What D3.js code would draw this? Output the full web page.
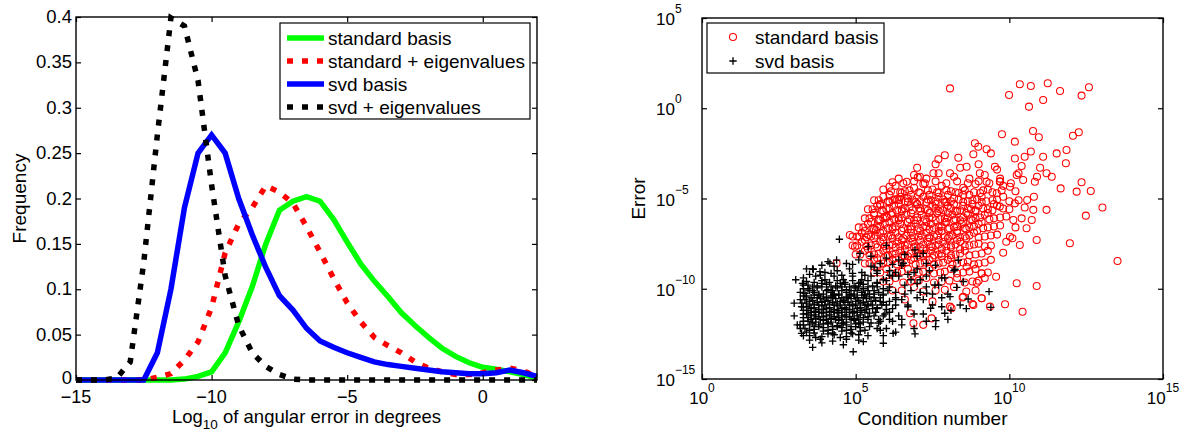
<!DOCTYPE html>
<html><head><meta charset="utf-8">
<script src="https://cdn.jsdelivr.net/npm/d3@7"></script>
<style>
body{margin:0;background:#fff}
svg{display:block}
text{font-family:"Liberation Sans",Arial,Helvetica,sans-serif;fill:#000}
</style>
</head><body>
<svg id="c" width="1184" height="432"></svg>
<script>
// ---------- Left panel data (histogram of log10 angular error) ----------
const binCenters = [-15,-14.5,-14,-13.5,-13,-12.5,-12,-11.5,-11,-10.5,-10,-9.5,-9,-8.5,-8,-7.5,-7,-6.5,-6,-5.5,-5,-4.5,-4,-3.5,-3,-2.5,-2,-1.5,-1,-0.5,0,0.5,1,1.5,2];
const freqStandard    = [0,0,0,0,0,0,0,0,0.001,0.004,0.009,0.03,0.064,0.103,0.15,0.187,0.197,0.202,0.197,0.177,0.152,0.128,0.109,0.092,0.074,0.06,0.047,0.035,0.026,0.019,0.014,0.012,0.009,0.006,0.002];
const freqStandardEig = [0,0,0,0,0,0,0.003,0.007,0.022,0.042,0.08,0.14,0.172,0.19,0.214,0.207,0.195,0.169,0.141,0.112,0.085,0.064,0.047,0.038,0.03,0.02,0.013,0.009,0.006,0.006,0.008,0.011,0.013,0.01,0.004];
const freqSvd         = [0,0,0,0,0,0,0.03,0.10,0.19,0.25,0.27,0.25,0.20,0.16,0.124,0.093,0.077,0.057,0.043,0.036,0.03,0.025,0.02,0.017,0.015,0.013,0.011,0.009,0.008,0.007,0.007,0.008,0.011,0.008,0.004];
const freqSvdEig      = [0,0,0,0.002,0.02,0.13,0.27,0.399,0.39,0.33,0.215,0.115,0.06,0.03,0.015,0.006,0.001,0,0,0,0,0,0,0,0,0,0,0,0,0,0,0,0,0,0];
const seriesNames = ["standard basis","standard + eigenvalues","svd basis","svd + eigenvalues"];
const xTicksLeft = [-15,-10,-5,0];
const xTickLabelsLeft = ["\u221215","\u221210","\u22125","0"];
const yTicksLeft = [0,0.05,0.1,0.15,0.2,0.25,0.3,0.35,0.4];
const yTickLabelsLeft = ["0","0.05","0.1","0.15","0.2","0.25","0.3","0.35","0.4"];

// ---------- Right panel data: [log10 condition number, log10 error] ----------
const redPoints = [
[8.07,1.1],[9.99,0.73],[10.34,1.33],[10.7,1.23],[11.25,1.38],[11.65,0.96],[12.35,0.7],[12.59,1.16],[11.1,0.46],[10.64,0.09],
[9.76,-1.44],[10.77,-1.26],[10.96,-1.61],[12.07,-1.52],[12.26,-1.33],[10.18,-1.85],[8.88,-1.94],[11.86,-2.31],
[13.03,-5.5],[12.49,-5.95],[11.97,-7.48],[13.52,-8.46],[12.65,-4.58],[12.35,-4.1],[11.67,-4.44],[12.19,-4.62],
[10.89,-9.85],[10.24,-9.7],[9.86,-10.86],[10.43,-11.27],[9.37,-10.99],[9.1,-10.53],[8.8,-10.84],[8.48,-10.48],
[7.69,-2.83],[8.34,-2.74],[8.83,-2.55],[8.99,-2.13],[9.26,-2.27],[9.53,-3.24],[9.69,-4.07],[10.18,-2.78],[10.5,-2.69],[11.1,-2.69],[11.54,-2.5],[11.84,-3.05],[11.38,-3.79],[10.83,-4.07],[11.21,-3.6],[10.45,-3.98],
[10.58,-5.08],[10.18,-5.27],[10.78,-5.63],[11.21,-5.63],[10.73,-6.19],[10.56,-6.65],[10.89,-7.3],[10.34,-7.58],[10.02,-7.12],[10.13,-6.19],[9.69,-5.45],[9.59,-4.71],[10.02,-4.35],[10.24,-3.7],[9.26,-4.07],[9.04,-3.6],[8.61,-3.24],[8.07,-3.6],[7.53,-3.6],[7.09,-3.79],[6.66,-4.07],
[9.57,-9.33],[9.1,-9.14],[8.94,-9.67],[8.61,-8.78],[8.07,-10.99],[7.2,-12.0],
[6.1,-4.35],[5.79,-5.36],[5.74,-6.19],[6.28,-5.04],[6.42,-5.08],[7.02,-3.83],[4.81,-7.02],[5.12,-7.12],[5.41,-7.02],[4.98,-7.67],[4.38,-8.59],[5.66,-6.75],[6.01,-6.0],[6.77,-11.36],[6.88,-11.91],
[7.47,-11.64],[8.12,-11.08],[8.5,-10.44],[8.83,-10.9],[9.1,-10.53],
[5.9,-4.5],[6.3,-4.3],[6.6,-4.6],[6.9,-4.4],[7.2,-4.2],[7.5,-4.5],[7.8,-4.3],[8.1,-4.6],[8.5,-4.4],[8.9,-4.2],[9.3,-4.5],[9.8,-4.3],[10.2,-4.6],
[6.4,-3.9],[6.9,-3.7],[7.3,-3.9],[7.7,-3.6],[8.2,-3.8],[8.7,-3.9],[9.2,-3.7],[9.7,-3.9],[10.3,-3.6],[10.9,-3.8],
[7.0,-3.3],[7.6,-3.1],[8.4,-3.3],[9.0,-3.1],[9.6,-3.4],[10.4,-3.2],[11.0,-3.3],
[7.9,-2.6],[9.4,-2.5],[10.7,-2.4],
[5.6,-5.1],[5.9,-4.9],[6.2,-5.1],[6.45,-4.9],[6.7,-5.0],[6.95,-5.2],[7.2,-4.9],[7.45,-5.1],[7.7,-4.9],[7.95,-5.2],[8.2,-5.0],[8.5,-4.8],[8.8,-5.1],[9.1,-4.9],[9.45,-5.1],[9.8,-4.9],[10.3,-5.1],[10.8,-4.9],
[5.4,-5.6],[5.7,-5.4],[6.0,-5.6],[6.25,-5.4],[6.5,-5.6],[6.75,-5.5],[7.0,-5.3],[7.25,-5.6],[7.5,-5.4],[7.75,-5.6],[8.0,-5.4],[8.25,-5.7],[8.5,-5.4],[8.75,-5.6],[9.0,-5.4],[9.3,-5.6],[9.6,-5.4],[10.0,-5.6],[10.5,-5.5],
[5.3,-6.1],[5.6,-5.9],[5.9,-6.1],[6.15,-5.9],[6.4,-6.1],[6.65,-5.9],[6.9,-6.2],[7.15,-5.9],[7.4,-6.1],[7.65,-5.8],[7.9,-6.1],[8.15,-5.9],[8.4,-6.2],[8.65,-5.9],[8.9,-6.1],[9.2,-5.9],[9.5,-6.1],[9.9,-6.0],[10.4,-6.1],
[5.1,-6.6],[5.4,-6.4],[5.7,-6.6],[5.95,-6.4],[6.2,-6.6],[6.45,-6.4],[6.7,-6.7],[6.95,-6.4],[7.2,-6.6],[7.45,-6.4],[7.7,-6.6],[7.95,-6.3],[8.2,-6.6],[8.45,-6.4],[8.7,-6.6],[9.0,-6.4],[9.3,-6.6],[9.7,-6.5],[10.2,-6.6],
[4.9,-7.1],[5.2,-6.9],[5.5,-7.1],[5.8,-6.9],[6.05,-7.1],[6.3,-6.9],[6.55,-7.2],[6.8,-6.9],[7.05,-7.1],[7.3,-6.9],[7.55,-7.1],[7.8,-6.8],[8.05,-7.1],[8.3,-6.9],[8.55,-7.1],[8.85,-6.9],[9.2,-7.1],[9.6,-7.0],[10.1,-7.2],
[4.9,-7.6],[5.2,-7.4],[5.5,-7.6],[5.8,-7.4],[6.1,-7.6],[6.35,-7.4],[6.6,-7.6],[6.85,-7.4],[7.1,-7.7],[7.35,-7.4],[7.6,-7.6],[7.85,-7.4],[8.1,-7.6],[8.4,-7.4],[8.7,-7.6],[9.0,-7.5],[9.4,-7.6],[9.9,-7.4],
[5.0,-8.1],[5.3,-7.9],[5.6,-8.1],[5.9,-7.9],[6.2,-8.1],[6.45,-7.9],[6.7,-8.2],[6.95,-7.9],[7.2,-8.1],[7.45,-7.9],[7.7,-8.1],[7.95,-7.9],[8.25,-8.1],[8.55,-7.9],[8.9,-8.1],[9.3,-7.9],[9.8,-8.0],
[5.3,-8.6],[5.6,-8.4],[5.9,-8.6],[6.2,-8.4],[6.5,-8.6],[6.8,-8.4],[7.1,-8.6],[7.4,-8.4],[7.7,-8.6],[8.0,-8.4],[8.3,-8.6],[8.65,-8.5],[9.0,-8.6],[9.4,-8.4],
[5.6,-9.1],[6.0,-8.9],[6.35,-9.1],[6.7,-8.9],[7.05,-9.1],[7.4,-8.9],[7.75,-9.1],[8.1,-8.9],[8.5,-9.1],[8.9,-8.9],[9.3,-9.1],
[5.9,-9.6],[6.3,-9.4],[6.8,-9.6],[7.3,-9.4],[7.8,-9.6],[8.3,-9.4],[8.8,-9.6],[9.2,-9.4],
[6.2,-10.1],[6.9,-9.9],[7.6,-10.1],[8.2,-9.9],[8.9,-10.1],
[6.6,-10.6],[7.5,-10.7],
[6.1,-4.8],[6.5,-4.7],[6.8,-4.8],[7.1,-4.7],[7.4,-4.8],[7.7,-4.7],[8.0,-4.8],[8.35,-4.7],[8.7,-4.8],[9.05,-4.7],
[5.8,-5.3],[6.1,-5.2],[6.4,-5.3],[6.7,-5.2],[7.0,-5.3],[7.3,-5.2],[7.6,-5.3],[7.9,-5.2],[8.2,-5.3],[8.5,-5.2],[8.8,-5.3],[9.1,-5.2],[9.5,-5.3],
[5.6,-5.8],[5.9,-5.7],[6.2,-5.8],[6.5,-5.7],[6.8,-5.8],[7.1,-5.7],[7.4,-5.8],[7.7,-5.7],[8.0,-5.8],[8.3,-5.7],[8.6,-5.8],[8.9,-5.7],[9.3,-5.8],
[5.5,-6.3],[5.8,-6.2],[6.1,-6.3],[6.4,-6.2],[6.7,-6.3],[7.0,-6.2],[7.3,-6.3],[7.6,-6.2],[7.9,-6.3],[8.2,-6.2],[8.5,-6.3],[8.8,-6.2],[9.1,-6.3],
[5.3,-6.8],[5.6,-6.7],[5.9,-6.8],[6.2,-6.7],[6.5,-6.8],[6.8,-6.7],[7.1,-6.8],[7.4,-6.7],[7.7,-6.8],[8.0,-6.7],[8.3,-6.8],[8.6,-6.7],[8.95,-6.8],
[5.3,-7.3],[5.6,-7.2],[5.9,-7.3],[6.2,-7.2],[6.5,-7.3],[6.8,-7.2],[7.1,-7.3],[7.4,-7.2],[7.7,-7.3],[8.0,-7.2],[8.3,-7.3],[8.6,-7.2],
[5.4,-7.8],[5.7,-7.7],[6.0,-7.8],[6.3,-7.7],[6.6,-7.8],[6.9,-7.7],[7.2,-7.8],[7.5,-7.7],[7.8,-7.8],[8.1,-7.7],[8.4,-7.8],
[5.7,-8.3],[6.0,-8.2],[6.3,-8.3],[6.6,-8.2],[6.9,-8.3],[7.2,-8.2],[7.5,-8.3],[7.8,-8.2],[8.1,-8.3],
[6.2,-4.1],[6.55,-4.15],[6.9,-4.05],[7.25,-4.15],[7.6,-4.05],[7.95,-4.15],[8.3,-4.05],[8.65,-4.15],[9.0,-4.05],[9.35,-4.15],[9.7,-4.05],[10.05,-4.15],
[6.15,-4.6],[6.45,-4.65],[6.75,-4.55],[7.05,-4.65],[7.35,-4.55],[7.65,-4.65],[7.95,-4.55],[8.25,-4.65],[8.55,-4.55],[8.85,-4.65],[9.15,-4.55],[9.45,-4.65],[9.75,-4.55],
[5.75,-5.1],[6.05,-5.15],[6.35,-5.05],[6.6,-5.15],[6.85,-5.05],[7.1,-5.15],[7.35,-5.05],[7.6,-5.15],[7.85,-5.05],[8.1,-5.15],[8.35,-5.05],[8.65,-5.15],[8.95,-5.05],[9.25,-5.15],[9.6,-5.05],[10.0,-5.15],
[5.55,-5.6],[5.85,-5.65],[6.1,-5.55],[6.35,-5.65],[6.6,-5.55],[6.85,-5.65],[7.1,-5.55],[7.35,-5.65],[7.6,-5.55],[7.85,-5.65],[8.1,-5.55],[8.4,-5.65],[8.65,-5.55],[8.9,-5.65],[9.15,-5.55],[9.45,-5.65],[9.8,-5.55],
[5.45,-6.1],[5.75,-6.15],[6.0,-6.05],[6.25,-6.15],[6.5,-6.05],[6.75,-6.15],[7.0,-6.05],[7.25,-6.15],[7.5,-6.05],[7.75,-6.15],[8.0,-6.05],[8.25,-6.15],[8.5,-6.05],[8.75,-6.15],[9.05,-6.05],[9.35,-6.15],[9.7,-6.05],
[5.25,-6.6],[5.55,-6.65],[5.8,-6.55],[6.05,-6.65],[6.3,-6.55],[6.55,-6.65],[6.8,-6.55],[7.05,-6.65],[7.3,-6.55],[7.55,-6.65],[7.8,-6.55],[8.05,-6.65],[8.3,-6.55],[8.55,-6.65],[8.85,-6.55],[9.15,-6.65],[9.5,-6.55],
[5.05,-7.1],[5.35,-7.15],[5.65,-7.05],[5.9,-7.15],[6.15,-7.05],[6.4,-7.15],[6.65,-7.05],[6.9,-7.15],[7.15,-7.05],[7.4,-7.15],[7.65,-7.05],[7.9,-7.15],[8.15,-7.05],[8.4,-7.15],[8.7,-7.05],[9.0,-7.15],[9.4,-7.05],
[5.05,-7.6],[5.35,-7.65],[5.65,-7.55],[5.95,-7.65],[6.2,-7.55],[6.45,-7.65],[6.7,-7.55],[6.95,-7.65],[7.2,-7.55],[7.45,-7.65],[7.7,-7.55],[7.95,-7.65],[8.25,-7.55],[8.55,-7.65],[8.85,-7.55],[9.2,-7.65],
[5.15,-8.1],[5.45,-8.15],[5.75,-8.05],[6.05,-8.15],[6.3,-8.05],[6.55,-8.15],[6.8,-8.05],[7.05,-8.15],[7.3,-8.05],[7.55,-8.15],[7.8,-8.05],[8.1,-8.15],[8.4,-8.05],[8.7,-8.15],[9.1,-8.05],
[5.45,-8.6],[5.75,-8.65],[6.05,-8.55],[6.35,-8.65],[6.65,-8.55],[6.95,-8.65],[7.25,-8.55],[7.55,-8.65],[7.85,-8.55],[8.15,-8.65],[8.5,-8.55],[8.85,-8.65],[9.2,-8.55],
[5.8,-9.1],[6.15,-9.15],[6.5,-9.05],[6.85,-9.15],[7.2,-9.05],[7.55,-9.15],[7.9,-9.05],[8.3,-9.15],[8.7,-9.05],[9.1,-9.15],
[6.1,-9.6],[6.55,-9.65],[7.05,-9.55],[7.55,-9.65],[8.05,-9.55],[8.55,-9.65],[9.0,-9.55],
[6.5,-10.1],[7.2,-10.15],[7.9,-10.05],[8.6,-10.15]
];
const blackPoints = [
[3.6,-8.9],[4.0,-9.1],[4.4,-9.0],[4.8,-8.9],[5.2,-9.1],[5.7,-9.0],[6.3,-9.1],[7.0,-8.9],
[3.3,-9.4],[3.7,-9.3],[4.0,-9.5],[4.3,-9.3],[4.6,-9.5],[4.9,-9.3],[5.2,-9.5],[5.5,-9.3],[5.9,-9.5],[6.4,-9.3],[7.1,-9.5],[7.8,-9.4],
[3.3,-9.8],[3.6,-9.9],[3.9,-9.7],[4.2,-9.9],[4.5,-9.7],[4.8,-9.9],[5.1,-9.7],[5.4,-9.9],[5.7,-9.7],[6.1,-9.9],[6.6,-9.8],[7.3,-9.9],
[3.2,-10.2],[3.5,-10.1],[3.8,-10.3],[4.05,-10.1],[4.3,-10.3],[4.55,-10.1],[4.8,-10.3],[5.05,-10.1],[5.3,-10.3],[5.6,-10.1],[5.9,-10.3],[6.3,-10.2],[6.8,-10.1],[7.5,-10.3],
[3.2,-10.6],[3.5,-10.7],[3.75,-10.5],[4.0,-10.7],[4.25,-10.5],[4.5,-10.7],[4.75,-10.5],[5.0,-10.7],[5.25,-10.5],[5.5,-10.7],[5.8,-10.5],[6.1,-10.7],[6.5,-10.6],[7.0,-10.5],
[3.3,-11.0],[3.55,-11.1],[3.8,-10.9],[4.05,-11.1],[4.3,-10.9],[4.55,-11.1],[4.8,-10.9],[5.05,-11.1],[5.3,-10.9],[5.55,-11.1],[5.85,-10.9],[6.2,-11.1],[6.7,-11.0],
[3.3,-11.4],[3.55,-11.5],[3.8,-11.3],[4.05,-11.5],[4.3,-11.3],[4.55,-11.5],[4.8,-11.3],[5.05,-11.5],[5.3,-11.3],[5.6,-11.5],[5.95,-11.4],[6.4,-11.5],
[3.3,-11.8],[3.6,-11.9],[3.85,-11.7],[4.1,-11.9],[4.35,-11.7],[4.6,-11.9],[4.85,-11.7],[5.1,-11.9],[5.4,-11.7],[5.75,-11.9],[6.2,-11.8],
[3.2,-12.2],[3.5,-12.3],[3.8,-12.1],[4.1,-12.3],[4.4,-12.1],[4.7,-12.3],[5.0,-12.1],[5.3,-12.3],[5.7,-12.2],
[3.3,-12.6],[3.7,-12.7],[4.1,-12.5],[4.5,-12.7],[4.9,-12.5],[5.4,-12.6],
[3.9,-13.0],[4.6,-13.1],
[3.45,-10.0],[3.75,-9.95],[4.1,-10.05],[4.4,-9.95],[4.7,-10.05],[5.0,-9.95],[5.25,-10.0],
[3.4,-10.4],[3.65,-10.35],[3.95,-10.45],[4.2,-10.4],[4.45,-10.35],[4.7,-10.45],[4.95,-10.4],[5.2,-10.35],[5.45,-10.45],
[3.4,-10.8],[3.65,-10.85],[3.9,-10.75],[4.15,-10.85],[4.4,-10.8],[4.65,-10.75],[4.9,-10.85],[5.15,-10.8],[5.4,-10.85],
[3.45,-11.2],[3.7,-11.25],[3.95,-11.15],[4.2,-11.25],[4.45,-11.2],[4.7,-11.15],[4.95,-11.25],[5.2,-11.2],
[3.45,-11.6],[3.7,-11.65],[3.95,-11.55],[4.2,-11.65],[4.45,-11.6],[4.7,-11.55],[4.95,-11.65],[5.25,-11.6],
[3.5,-12.0],[3.8,-12.0],[4.1,-11.95],[4.4,-12.05],[4.7,-12.0],[5.0,-11.95],
[3.4,-9.6],[3.65,-9.65],[3.9,-9.55],[4.15,-9.65],[4.4,-9.55],[4.65,-9.65],[4.9,-9.55],[5.15,-9.65],[5.4,-9.55],[5.7,-9.65],[6.0,-9.55],
[3.3,-10.0],[3.6,-10.1],[3.9,-9.9],[4.25,-10.1],[4.55,-9.9],[4.85,-10.1],[5.1,-9.9],[5.4,-10.1],[5.7,-9.9],[6.05,-10.1],
[3.3,-10.4],[3.55,-10.5],[3.8,-10.35],[4.05,-10.5],[4.3,-10.35],[4.55,-10.5],[4.8,-10.35],[5.05,-10.5],[5.3,-10.35],[5.6,-10.5],[5.9,-10.35],[6.3,-10.5],
[3.25,-10.8],[3.5,-10.9],[3.75,-10.75],[4.0,-10.9],[4.25,-10.75],[4.5,-10.9],[4.75,-10.75],[5.0,-10.9],[5.25,-10.75],[5.55,-10.9],[5.9,-10.75],[6.3,-10.9],
[3.3,-11.2],[3.55,-11.3],[3.8,-11.15],[4.05,-11.3],[4.3,-11.15],[4.55,-11.3],[4.8,-11.15],[5.05,-11.3],[5.35,-11.15],[5.65,-11.3],[6.0,-11.15],
[3.3,-11.6],[3.55,-11.7],[3.8,-11.55],[4.05,-11.7],[4.3,-11.55],[4.55,-11.7],[4.8,-11.55],[5.1,-11.7],[5.4,-11.55],[5.75,-11.7],
[3.3,-12.0],[3.65,-12.1],[3.95,-11.95],[4.25,-12.1],[4.55,-11.95],[4.85,-12.1],[5.15,-11.95],[5.45,-12.1],
[3.4,-12.4],[3.65,-12.45],[3.95,-12.35],[4.25,-12.45],[4.55,-12.35],[4.85,-12.45],[5.15,-12.35],
[3.5,-12.85],[3.85,-12.8],[4.25,-12.9],[4.7,-12.8],[5.1,-12.85],
[3.5,-9.2],[3.85,-9.25],[4.2,-9.15],[4.55,-9.25],[4.9,-9.15],[5.3,-9.25],[5.7,-9.15],[6.1,-9.25],
[3.9,-8.7],[4.3,-8.75],[4.9,-8.65],[5.5,-8.75],[6.2,-8.65],
[3.45,-9.8],[3.75,-9.85],[4.05,-9.75],[4.35,-9.85],[4.65,-9.75],[4.95,-9.85],[5.25,-9.75],[5.55,-9.85],
[3.35,-10.25],[3.65,-10.2],[3.95,-10.3],[4.2,-10.2],[4.45,-10.3],[4.7,-10.2],[4.95,-10.3],[5.2,-10.2],[5.45,-10.3],[5.75,-10.2],
[3.35,-10.6],[3.6,-10.65],[3.85,-10.55],[4.1,-10.65],[4.35,-10.55],[4.6,-10.65],[4.85,-10.55],[5.1,-10.65],[5.35,-10.55],[5.65,-10.65],
[3.4,-11.0],[3.65,-11.05],[3.9,-10.95],[4.15,-11.05],[4.4,-10.95],[4.65,-11.05],[4.9,-10.95],[5.15,-11.05],[5.4,-10.95],[5.7,-11.05],
[3.4,-11.4],[3.65,-11.45],[3.9,-11.35],[4.15,-11.45],[4.4,-11.35],[4.65,-11.45],[4.9,-11.35],[5.15,-11.45],[5.45,-11.35],
[3.45,-11.8],[3.7,-11.85],[3.95,-11.75],[4.2,-11.85],[4.45,-11.75],[4.7,-11.85],[4.95,-11.75],[5.25,-11.85],
[3.35,-12.2],[3.65,-12.25],[3.95,-12.15],[4.25,-12.25],[4.55,-12.15],[4.85,-12.25],[5.15,-12.15],
[3.5,-12.6],[3.9,-12.65],[4.3,-12.55],[4.7,-12.65],[5.1,-12.55],
[5.6,-10.3],[5.8,-10.7],[5.7,-11.1],[5.9,-11.5],[5.5,-11.9],[5.8,-12.3],[6.0,-10.9],[6.1,-11.7],
[6.0,-8.3],[6.5,-8.7],[7.0,-8.2],[6.2,-9.3],[6.8,-9.5],[7.4,-9.0],[7.7,-9.8],[8.0,-10.3],[6.6,-10.3],[7.2,-10.6],[7.8,-11.0],[6.9,-11.4],[6.5,-12.0],[7.3,-11.8],[8.4,-10.9],[6.3,-12.4],[5.9,-12.6],[6.0,-7.6],[5.5,-8.2],[5.1,-8.4],[4.7,-8.6],[4.1,-8.5],[3.4,-8.9],[3.0,-10.8],[3.0,-11.5],[3.1,-12.0],[3.05,-9.5],
[5.8,-8.6],[6.1,-9.0],[6.4,-8.4],[6.7,-9.2],[7.0,-9.7],[7.3,-9.3],[7.6,-8.7],[7.9,-9.4],[8.2,-9.0],[8.5,-9.6],[5.9,-10.0],[6.3,-10.6],[6.7,-10.9],[7.1,-10.2],[7.5,-10.9],[7.8,-10.5],[8.1,-11.2],[8.6,-11.1],[6.1,-11.3],[6.5,-11.7],[6.9,-12.2],[7.2,-11.4],[5.8,-11.8],[6.0,-12.2],[7.6,-12.1],[8.0,-11.7],[6.6,-8.1],[7.3,-8.6],[5.6,-8.8],[6.9,-9.1],
[9.34,-10.16],[9.4,-11.03],[8.66,-10.57],[8.29,-9.92],[8.07,-10.44],[7.9,-11.36],[7.61,-11.77],[7.44,-11.08],[6.93,-12.5],[8.34,-8.41],[8.23,-8.92],[7.2,-8.04],[6.93,-7.85],[7.58,-9.79],[7.31,-10.25],[6.55,-8.59],
[4.47,-7.26],[4.92,-13.49],[3.6,-13.25],[3.24,-11.0],[3.27,-9.7],[3.62,-8.92],[3.84,-9.05],[4.16,-8.59],[4.38,-8.41],[5.14,-8.04],[5.41,-7.67],[5.9,-13.02],[6.22,-12.47],[5.25,-12.93],[3.19,-12.0],[3.24,-12.47]
];
const scatterNames = ["standard basis","svd basis"];
const xTicksRightExp = [0,5,10,15];
const yTicksRightExp = [-15,-10,-5,0,5];

// ---------- Drawing ----------
const svg = d3.select("#c");
svg.append("rect").attr("width",1184).attr("height",432).attr("fill","#fff");
const FS = 19;

// ===== Left panel =====
const L = {x0:76, x1:537, y0:17, y1:380};
const xL = d3.scaleLinear().domain([-15,2]).range([L.x0,L.x1]);
const yL = d3.scaleLinear().domain([0,0.4]).range([L.y1,L.y0]);
const gL = svg.append("g");

const seriesL = [
  {vals:freqStandard, color:"#00ff00", dash:null},
  {vals:freqStandardEig, color:"#ff0000", dash:"6,9"},
  {vals:freqSvd, color:"#0000ff", dash:null},
  {vals:freqSvdEig, color:"#000000", dash:"6,9"}
];
const lineL = d3.line().x((d,i)=>xL(binCenters[i])).y(d=>yL(d));
seriesL.forEach(s=>{
  gL.append("path").attr("d",lineL(s.vals)).attr("fill","none")
    .attr("stroke",s.color).attr("stroke-width",5.5)
    .attr("stroke-dasharray",s.dash).attr("stroke-linejoin","miter").attr("stroke-linecap","butt");
});

function insideAxes(g, xs, ys, box, xt, yt){
  g.append("g").attr("transform",`translate(0,${box.y1})`).call(d3.axisBottom(xs).tickValues(xt).tickSizeInner(-5).tickSizeOuter(0).tickFormat(""));
  g.append("g").attr("transform",`translate(0,${box.y0})`).call(d3.axisTop(xs).tickValues(xt).tickSizeInner(-5).tickSizeOuter(0).tickFormat(""));
  g.append("g").attr("transform",`translate(${box.x0},0)`).call(d3.axisLeft(ys).tickValues(yt).tickSizeInner(-5).tickSizeOuter(0).tickFormat(""));
  g.append("g").attr("transform",`translate(${box.x1},0)`).call(d3.axisRight(ys).tickValues(yt).tickSizeInner(-5).tickSizeOuter(0).tickFormat(""));
  g.selectAll(".domain").remove();
  g.selectAll(".tick line").attr("stroke","#000").attr("stroke-width",1.2);
  g.append("rect").attr("x",box.x0).attr("y",box.y0).attr("width",box.x1-box.x0).attr("height",box.y1-box.y0)
    .attr("fill","none").attr("stroke","#000").attr("stroke-width",1.4);
}
insideAxes(gL, xL, yL, L, xTicksLeft, yTicksLeft);

xTicksLeft.forEach((t,i)=>{
  gL.append("text").attr("x",xL(t)).attr("y",403).attr("text-anchor","middle").attr("font-size",18).text(xTickLabelsLeft[i]);
});
yTicksLeft.forEach((t,i)=>{
  gL.append("text").attr("x",L.x0-4).attr("y",yL(t)+(t===0?4:6)).attr("text-anchor","end").attr("font-size",18.5).text(yTickLabelsLeft[i]);
});
const xl = gL.append("text").attr("x",(L.x0+L.x1)/2).attr("y",422.5).attr("text-anchor","middle").attr("font-size",18.5);
xl.append("tspan").text("Log");
xl.append("tspan").attr("font-size",13.5).attr("dy",6).text("10");
xl.append("tspan").attr("dy",-6).text(" of angular error in degrees");
gL.append("text").attr("transform",`translate(26,${(L.y0+L.y1)/2}) rotate(-90)`).attr("text-anchor","middle").attr("font-size",FS).text("Frequency");

// legend left
const legL = gL.append("g");
legL.append("rect").attr("x",280).attr("y",23).attr("width",250).attr("height",96).attr("fill","#fff").attr("stroke","#000").attr("stroke-width",1.2);
seriesL.forEach((s,i)=>{
  const cy = 38 + i*23;
  legL.append("line").attr("x1",287).attr("x2",324).attr("y1",cy).attr("y2",cy)
    .attr("stroke",s.color).attr("stroke-width",5.5).attr("stroke-dasharray",s.dash);
  legL.append("text").attr("x",328).attr("y",cy+7).attr("font-size",FS).text(seriesNames[i]);
});

// ===== Right panel =====
const R = {x0:702, x1:1163, y0:18, y1:379};
const xR = d3.scaleLog().domain([1,1e15]).range([R.x0,R.x1]);
const yR = d3.scaleLog().domain([1e-15,1e5]).range([R.y1,R.y0]);
const gR = svg.append("g");

gR.selectAll("circle.red").data(redPoints).enter().append("circle")
  .attr("cx",d=>xR(Math.pow(10,d[0]))).attr("cy",d=>yR(Math.pow(10,d[1]))).attr("r",3.5)
  .attr("fill","none").attr("stroke","#ff0000").attr("stroke-width",1.05);
const plus = "M-3.7,0H3.7M0,-3.7V3.7";
gR.selectAll("path.blk").data(blackPoints).enter().append("path")
  .attr("transform",d=>`translate(${xR(Math.pow(10,d[0]))},${yR(Math.pow(10,d[1]))})`)
  .attr("d",plus).attr("stroke","#000").attr("stroke-width",1.35).attr("fill","none");

const xTR = xTicksRightExp.map(e=>Math.pow(10,e));
const yTR = yTicksRightExp.map(e=>Math.pow(10,e));
insideAxes(gR, xR, yR, R, xTR, yTR);

function expLabel(g, x, y, anchor, e){
  const t = g.append("text").attr("x",x).attr("y",y).attr("text-anchor",anchor).attr("font-size",17);
  t.append("tspan").text("10");
  t.append("tspan").attr("font-size",12).attr("dy",-12).text(String(e).replace("-","\u2212"));
  return t;
}
xTicksRightExp.forEach(e=>expLabel(gR, xR(Math.pow(10,e)), 404, "middle", e));
yTicksRightExp.forEach(e=>expLabel(gR, 656, yR(Math.pow(10,e))+7, "start", e));

gR.append("text").attr("x",(R.x0+R.x1)/2).attr("y",425).attr("text-anchor","middle").attr("font-size",FS).text("Condition number");
gR.append("text").attr("transform",`translate(645,${(R.y0+R.y1)/2}) rotate(-90)`).attr("text-anchor","middle").attr("font-size",FS).text("Error");

// legend right
const legR = gR.append("g");
legR.append("rect").attr("x",707).attr("y",23).attr("width",177).attr("height",50).attr("fill","#fff").attr("stroke","#000").attr("stroke-width",1.2);
legR.append("circle").attr("cx",733).attr("cy",37).attr("r",3.5).attr("fill","none").attr("stroke","#ff0000").attr("stroke-width",1.05);
legR.append("path").attr("transform","translate(733,61)").attr("d",plus).attr("stroke","#000").attr("stroke-width",1.35);
legR.append("text").attr("x",755).attr("y",44).attr("font-size",FS).text(scatterNames[0]);
legR.append("text").attr("x",755).attr("y",68).attr("font-size",FS).text(scatterNames[1]);
</script>
</body></html>
